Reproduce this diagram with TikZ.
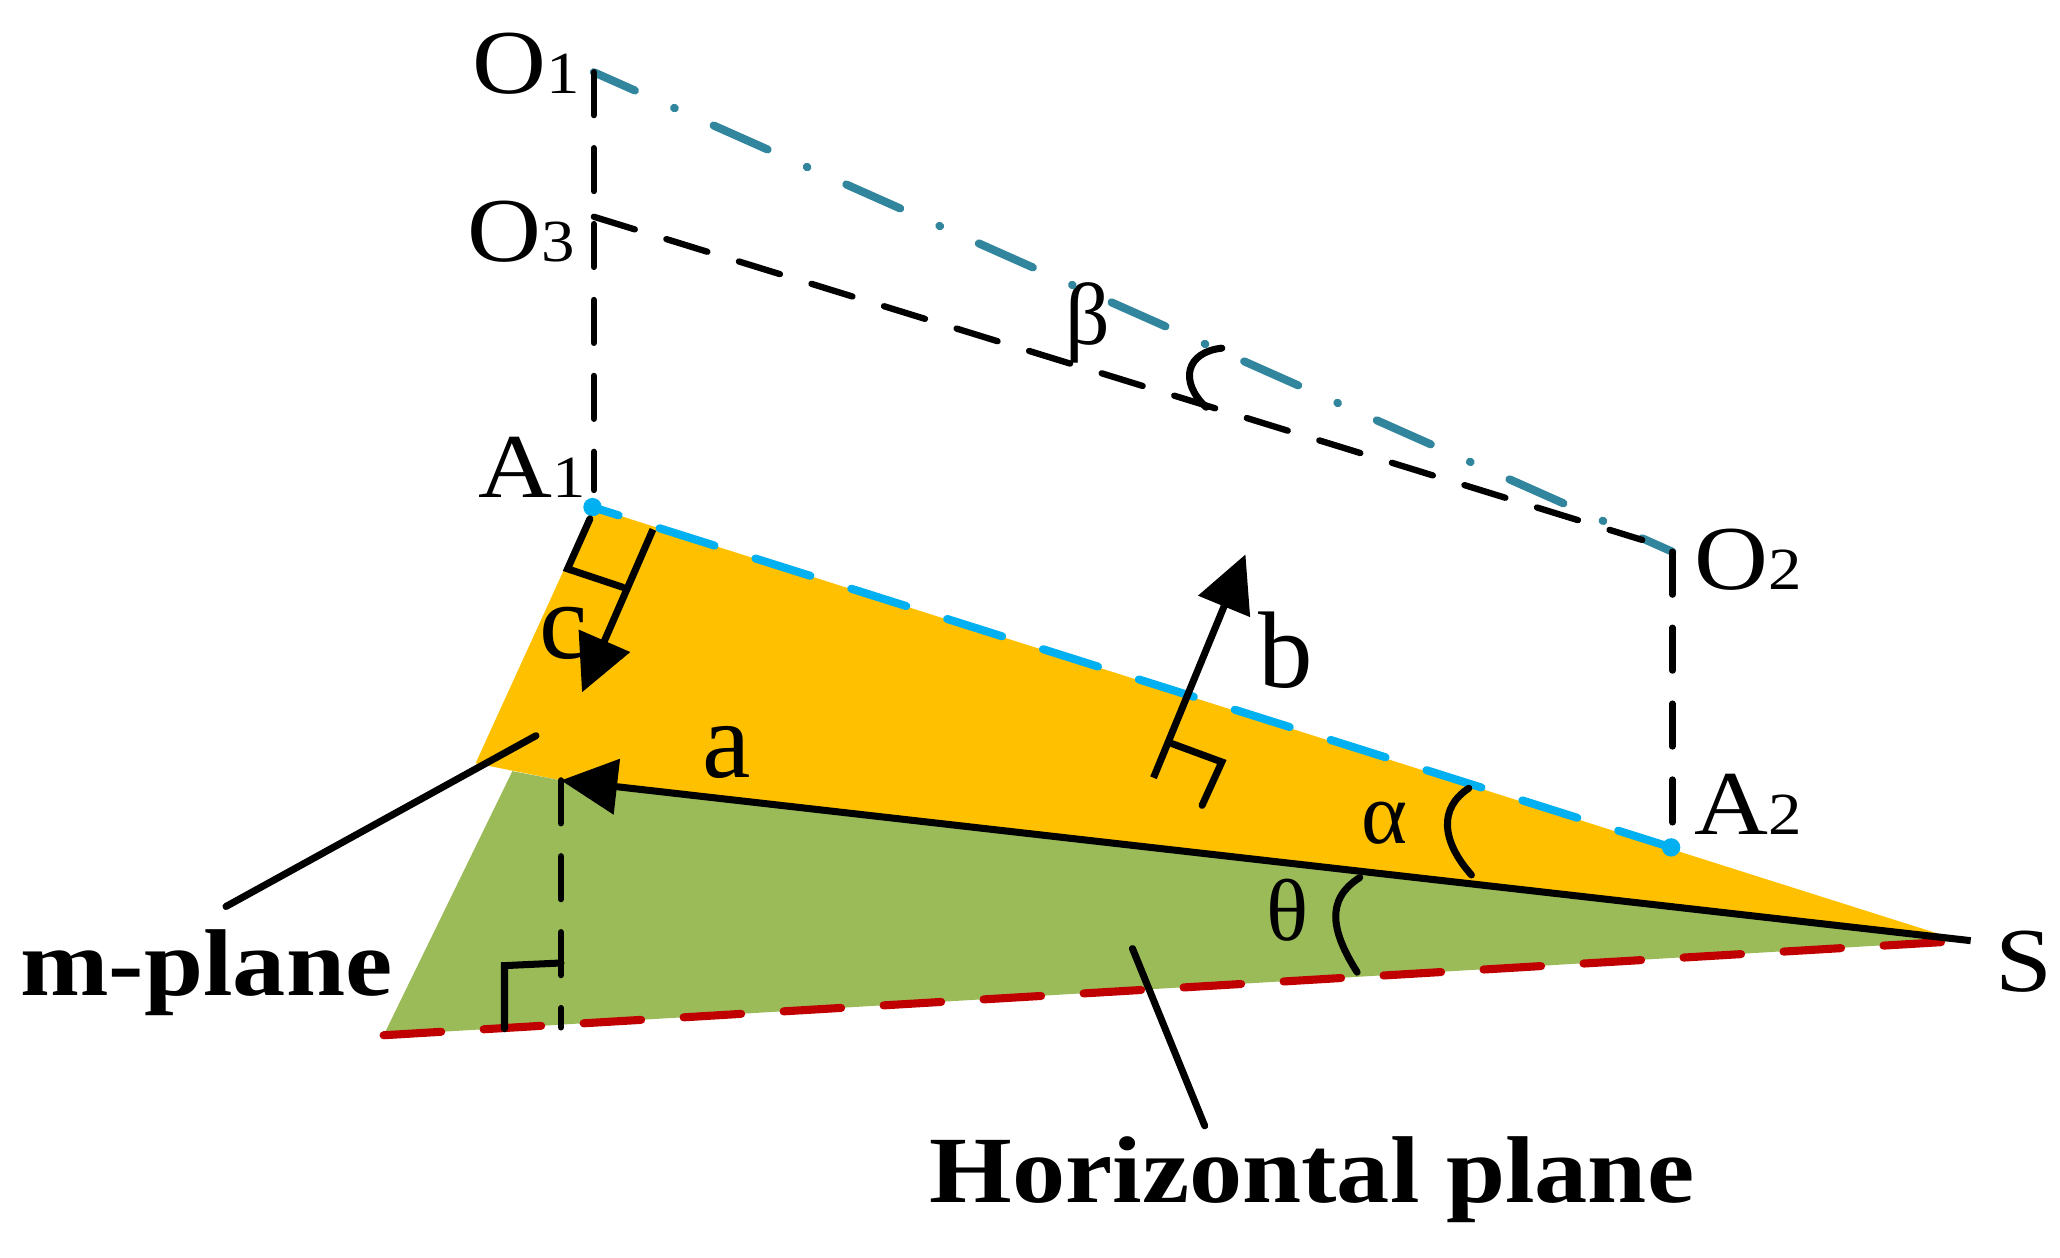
\documentclass[tikz,border=0pt]{standalone}
\usepackage{fontspec}
\setmainfont[FakeStretch=1.12]{Liberation Serif}
\newfontfamily\plainf{Liberation Serif}
\usetikzlibrary{arrows.meta}
\definecolor{yel}{HTML}{FFC000}
\definecolor{grn}{HTML}{9BBB59}
\definecolor{redl}{HTML}{C00000}
\definecolor{blu}{HTML}{00B0F0}
\definecolor{teal2}{HTML}{31859C}
\tikzset{
  lbl/.style={inner sep=0pt,anchor=base west,font=\fontsize{26}{30}\selectfont},
  vecl/.style={inner sep=0pt,anchor=base,font=\plainf\fontsize{31}{36}\selectfont},
  greek/.style={inner sep=0pt,anchor=base,font=\plainf\fontsize{25}{30}\selectfont},
  boldl/.style={inner sep=0pt,anchor=base west,font=\bfseries\fontsize{27}{32}\selectfont},
  blackdash/.style={black,line width=1.8pt,line cap=round,dash pattern=on 12.2pt off 9.4pt},
  bluedash/.style={blu,line width=2.3pt,line cap=round,dash pattern=on 16.4pt off 12.2pt,dash phase=8.6pt},
  reddash/.style={redl,line width=2.3pt,line cap=round,dash pattern=on 16.4pt off 12.1pt},
  tealdash/.style={teal2,line width=2.3pt,line cap=round,dash pattern=on 16.8pt off 12.2pt on 0.2pt off 12.1pt,dash phase=4pt},
  solidl/.style={black,line width=2pt,line cap=round},
  vec/.style={solidl,line cap=butt,-{Triangle[length=16pt,width=15.5pt]}},
  ang/.style={black,line width=2pt,line cap=round},
}
\newcommand{\subd}[1]{{\fontsize{17}{17}\selectfont #1}}
\begin{document}
\begin{tikzpicture}[x=0.013138cm,y=-0.013138cm]
\useasboundingbox (0,0) rectangle (1568,957);
% points
\coordinate (O1) at (452,55);
\coordinate (O3) at (452,165);
\coordinate (A1) at (451,386);
\coordinate (A1e) at (452,373);
\coordinate (O2) at (1273,420);
\coordinate (O3e) at (1250,411);
\coordinate (A2) at (1272,645);
\coordinate (A2e) at (1273,627);
\coordinate (S) at (1500,716);
\coordinate (St) at (1492,716);
\coordinate (Ye) at (362,581);
\coordinate (Gt) at (390,587);
\coordinate (F) at (427,594);
\coordinate (H) at (292,788);
\coordinate (Re) at (1480,717);
\coordinate (Fb) at (427,782);
% planes
\fill[yel] (A1) -- (St) -- (F) -- (Ye) -- cycle;
\fill[grn] (Gt) -- (F) -- (St) -- (H) -- cycle;
% labels
\node[lbl] (tO1) at (359,71) {O\subd{1}};
\node[lbl] (tO3) at (355,199) {O\subd{3}};
\node[lbl] (tA1) at (364,379) {A\subd{1}};
\node[lbl] (tO2) at (1289,449) {O\subd{2}};
\node[lbl] (tA2) at (1289,635) {A\subd{2}};
\node[lbl] (tS) at (1518,755) {S};
\node[vecl] (ta) at (553,592) {a};
\node[vecl] (tb) at (979,523) {b};
\node[vecl] (tc) at (429,501) {c};
\node[greek] (talpha) at (1054,642) {α};
\node[greek] (ttheta) at (980,716) {θ};
\node[greek] (tbeta) at (828,262) {β};
\node[boldl] (tm) at (15,758) {m-plane};
\node[boldl] (th) at (707,915) {Horizontal plane};
% dashed lines
\draw[reddash] (H) -- (Re);
\draw[bluedash] (A1) -- (A2);
\fill[blu] (A1) circle (7);
\fill[blu] (A2) circle (7);
\draw[tealdash] (O1) -- (O2);
\draw[blackdash] (O1) -- (A1e);
\draw[blackdash] (O3) -- (O3e);
\draw[blackdash] (O2) -- (A2e);
\draw[blackdash] (F) -- (Fb);
% vectors
\coordinate (ct) at (497,403);
\coordinate (ch) at (443,527);
\coordinate (bs) at (878,592);
\coordinate (bh) at (948,422);
\draw[vec] (S) -- (F);
\draw[vec] (ct) -- (ch);
\draw[vec] (bs) -- (bh);
% right-angle marks
\coordinate (r1a) at (449,395); \coordinate (r1b) at (432,433); \coordinate (r1c) at (474,447);
\draw[solidl,line join=miter] (r1a) -- (r1b) -- (r1c);
\coordinate (r2a) at (892,566); \coordinate (r2b) at (930,580); \coordinate (r2c) at (915,613);
\draw[solidl,line join=miter] (r2a) -- (r2b) -- (r2c);
\coordinate (r3a) at (427,733); \coordinate (r3b) at (384,735); \coordinate (r3c) at (384,783);
\draw[solidl,line join=miter] (r3a) -- (r3b) -- (r3c);
% leaders
\coordinate (lm1) at (408,560); \coordinate (lm2) at (172,690);
\coordinate (lh1) at (862,722); \coordinate (lh2) at (917,857);
\draw[solidl] (lm1) -- (lm2);
\draw[solidl] (lh1) -- (lh2);
% angle arcs
\coordinate (a1) at (1118,600); \coordinate (a2) at (1120,666);
\coordinate (t1) at (1035,668); \coordinate (t2) at (1033,740);
\coordinate (b1) at (930,265); \coordinate (b2) at (918,310);
\draw[ang] (a1) .. controls (1095,615) and (1097,640) .. (a2);
\draw[ang] (t1) .. controls (1008,685) and (1014,710) .. (t2);
\draw[ang] (b1) .. controls (903,268) and (897,290) .. (b2);
\end{tikzpicture}
\end{document}
